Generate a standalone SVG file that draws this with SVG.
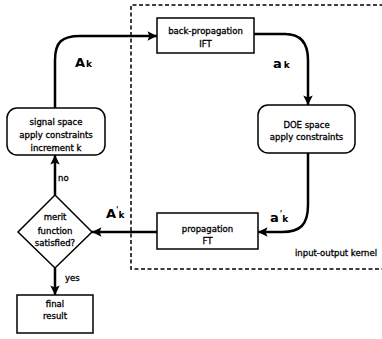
<svg xmlns="http://www.w3.org/2000/svg" width="382" height="339" viewBox="0 0 382 339">
<defs>
<style>
.box{fill:#fff;stroke:#000;stroke-width:1.5}
.t{font-family:"DejaVu Sans",sans-serif;font-size:8.5px;text-anchor:middle;fill:#000;stroke:#000;stroke-width:0.3}
.s{font-family:"DejaVu Sans",sans-serif;font-size:8.5px;fill:#000;stroke:#000;stroke-width:0.3}
.L{font-family:"DejaVu Sans",sans-serif;font-weight:bold;fill:#000}
.c{fill:none;stroke:#000;stroke-width:2.5}
</style>
<marker id="ah" viewBox="0 0 10 10" refX="10" refY="5" markerWidth="4.6" markerHeight="3.8" orient="auto" markerUnits="strokeWidth">
<path d="M0,0 L10,5 L0,10 L2,5 Z" fill="#000"/>
</marker>
</defs>
<rect width="382" height="339" fill="#fff"/>
<g id="kernel">
<path d="M390,5 H131 V269 H390" fill="none" stroke="#000" stroke-width="1.5" stroke-dasharray="4,2.5"/>
<text class="s" x="295" y="256">input-output kernel</text>
</g>
<g id="connectors">
<path class="c" d="M55,108 V60 C55,42 62,36 80,36 H157" marker-end="url(#ah)"/>
<path class="c" d="M254,34 H285 C300,34 308,42 308,60 V105" marker-end="url(#ah)"/>
<path class="c" d="M308,153 V205 C308,225 300,232 282,232 H258" marker-end="url(#ah)"/>
<path class="c" d="M157,232 H92" marker-end="url(#ah)"/>
<path class="c" d="M55,195 V155" marker-end="url(#ah)"/>
<path class="c" d="M55,268 V295" marker-end="url(#ah)"/>
<text class="L" x="75" y="67" font-size="13">A<tspan font-size="9" dx="1">k</tspan></text>
<text class="L" x="273" y="68" font-size="13">a<tspan font-size="9" dx="2">k</tspan></text>
<text class="L" x="106" y="218" font-size="13">A<tspan font-size="8" dy="-5">'</tspan><tspan font-size="9" dy="5">k</tspan></text>
<text class="L" x="270" y="222" font-size="13">a<tspan font-size="8" dx="1" dy="-5">'</tspan><tspan font-size="9" dy="5">k</tspan></text>
<text class="s" x="58" y="181">no</text>
<text class="s" x="65" y="281">yes</text>
</g>
<g id="backprop">
<rect class="box" x="157" y="18" width="97" height="35"/>
<text class="t" x="205.5" y="34">back-propagation</text>
<text class="t" x="205.5" y="47">IFT</text>
</g>
<g id="doe">
<rect class="box" x="258" y="105" width="97" height="48" rx="10"/>
<text class="t" x="306.5" y="128">DOE space</text>
<text class="t" x="306.5" y="140">apply constraints</text>
</g>
<g id="propagation">
<rect class="box" x="157" y="213" width="101" height="36"/>
<text class="t" x="207.5" y="232">propagation</text>
<text class="t" x="207.5" y="244">FT</text>
</g>
<g id="signal">
<rect class="box" x="7" y="108" width="98" height="47" rx="10"/>
<text class="t" x="56" y="125">signal space</text>
<text class="t" x="56" y="138">apply constraints</text>
<text class="t" x="56" y="151">increment k</text>
</g>
<g id="merit">
<path class="box" d="M55,195 L92,232 L55,268 L18,232 Z"/>
<text class="t" x="55" y="220">merit</text>
<text class="t" x="55" y="234">function</text>
<text class="t" x="55" y="246">satisfied?</text>
</g>
<g id="final">
<rect class="box" x="17" y="295" width="76" height="38"/>
<text class="t" x="55" y="307">final</text>
<text class="t" x="55" y="319">result</text>
</g>
</svg>
